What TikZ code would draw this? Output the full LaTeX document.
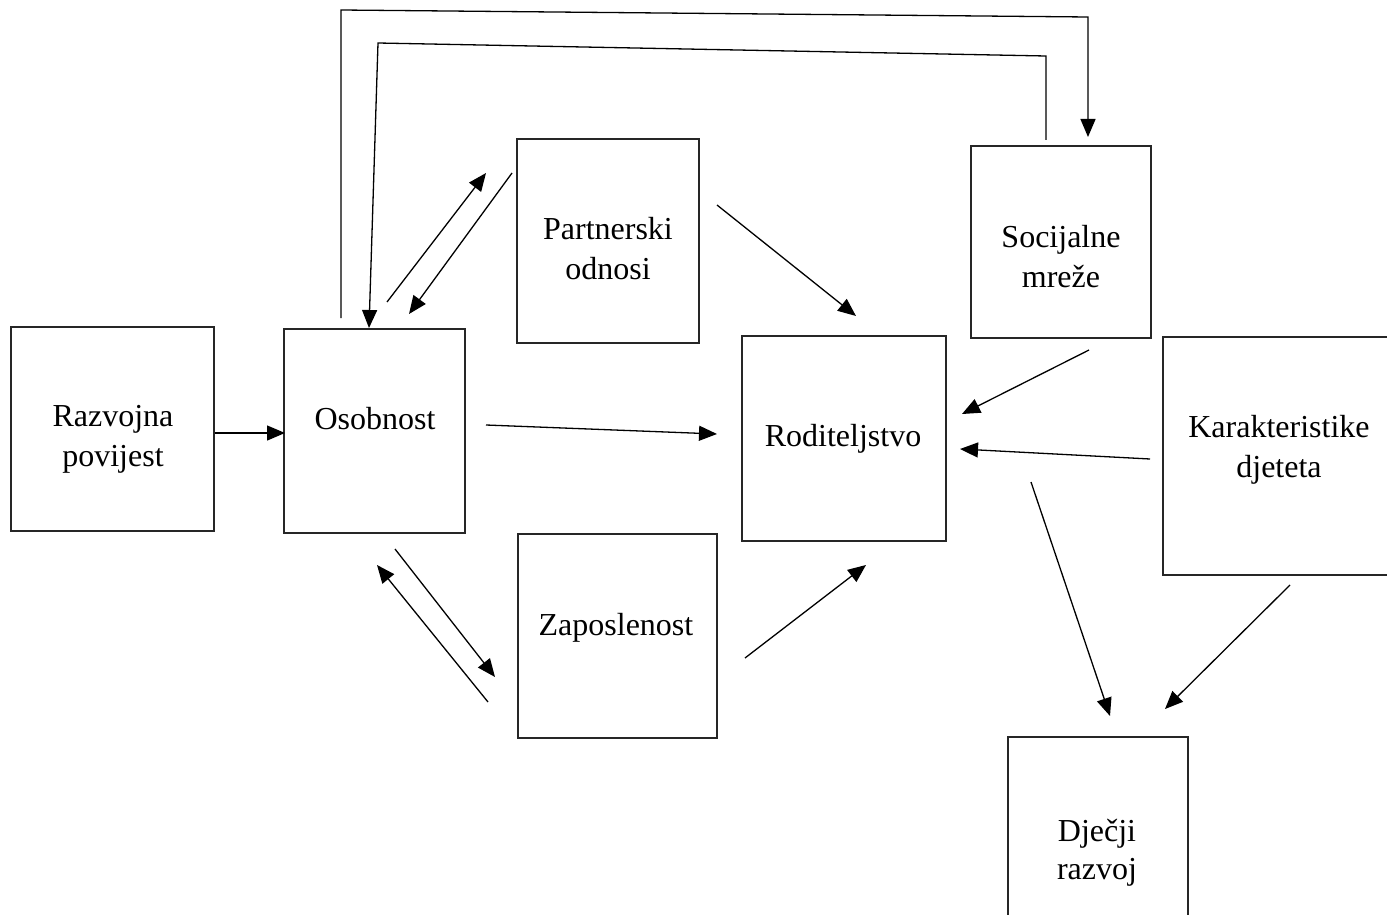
\documentclass[tikz,border=0pt]{standalone}
\usepackage{fontspec}
\setmainfont{Liberation Serif}
\usetikzlibrary{arrows.meta}
\begin{document}
\begin{tikzpicture}[x=1pt,y=-1pt,
  box/.style={draw=black!85, line width=1.3pt, inner sep=0pt, rectangle},
  lbl/.style={inner sep=0pt, align=center, font=\fontsize{32}{40}\selectfont},
  arr/.style={line width=1.3pt, -{Triangle[length=18pt,width=15pt]}},
  ln/.style={line width=1.3pt}]
\useasboundingbox (0,0) rectangle (1387,915);
\clip (0,0) rectangle (1387,915);
% boxes
\node[box, minimum width=203pt, minimum height=204pt] (raz) at (112.5,429) {};
\node[box, minimum width=181pt, minimum height=204pt] (oso) at (374.5,431) {};
\node[box, minimum width=182pt, minimum height=204pt] (par) at (608,241) {};
\node[box, minimum width=199pt, minimum height=204pt] (zap) at (617.5,636) {};
\node[box, minimum width=204pt, minimum height=205pt] (rod) at (844,438.5) {};
\node[box, minimum width=180pt, minimum height=192pt] (soc) at (1061,242) {};
\node[box, minimum width=257pt, minimum height=238pt] (kar) at (1291.5,456) {};
\node[box, minimum width=180pt, minimum height=203pt] (dje) at (1098,838.5) {};
% texts
\node[lbl, anchor=north] (trazt) at (113,405) {Razvojna\\povijest};
\node[lbl, anchor=base] (tosot) at (375,429) {Osobnost};
\node[lbl, anchor=north] (tpart) at (608,217) {Partnerski\\odnosi};
\node[lbl, anchor=base] (tzapt) at (616,635) {Zaposlenost};
\node[lbl, anchor=base] (trodt) at (843,446) {Roditeljstvo};
\node[lbl, anchor=north] (tsoct) at (1061,225) {Socijalne\\mreže};
\node[lbl, anchor=north] (tkart) at (1279,415) {Karakteristike\\djeteta};
\node[lbl, anchor=north, font=\fontsize{32}{38}\selectfont] (tdjet) at (1097,819) {Dječji\\razvoj};
% arrow end points
\coordinate (a1s) at (215,433); \coordinate (a1e) at (285,433);
\coordinate (a2s) at (486,425); \coordinate (a2e) at (717,434);
\coordinate (a3s) at (717,205); \coordinate (a3e) at (856,316);
\coordinate (a4s) at (745,658); \coordinate (a4e) at (866,565);
\coordinate (a5s) at (1089,350); \coordinate (a5e) at (962,414);
\coordinate (a6s) at (1150,459); \coordinate (a6e) at (960,449);
\coordinate (a7s) at (1031,482); \coordinate (a7e) at (1110,716);
\coordinate (a8s) at (1290,585); \coordinate (a8e) at (1165,709);
\coordinate (a9s) at (387,302); \coordinate (a9e) at (486,173);
\coordinate (a10s) at (512,173); \coordinate (a10e) at (409,314);
\coordinate (a11s) at (395,549); \coordinate (a11e) at (495,677);
\coordinate (a12s) at (488,702); \coordinate (a12e) at (377,565);
\coordinate (l1s) at (341,318); \coordinate (l1a) at (341,10);
\coordinate (l1b) at (1088,17); \coordinate (l1e) at (1088,137);
\coordinate (l2s) at (1046,140); \coordinate (l2a) at (1046,56);
\coordinate (l2b) at (378,43); \coordinate (l2e) at (369,328);
% arrows
\draw[arr] (a1s) -- (a1e);
\draw[arr] (a2s) -- (a2e);
\draw[arr] (a3s) -- (a3e);
\draw[arr] (a4s) -- (a4e);
\draw[arr] (a5s) -- (a5e);
\draw[arr] (a6s) -- (a6e);
\draw[arr] (a7s) -- (a7e);
\draw[arr] (a8s) -- (a8e);
\draw[arr] (a9s) -- (a9e);
\draw[arr] (a10s) -- (a10e);
\draw[arr] (a11s) -- (a11e);
\draw[arr] (a12s) -- (a12e);
\draw[arr] (l1s) -- (l1a) -- (l1b) -- (l1e);
\draw[arr] (l2s) -- (l2a) -- (l2b) -- (l2e);
\end{tikzpicture}
\end{document}
